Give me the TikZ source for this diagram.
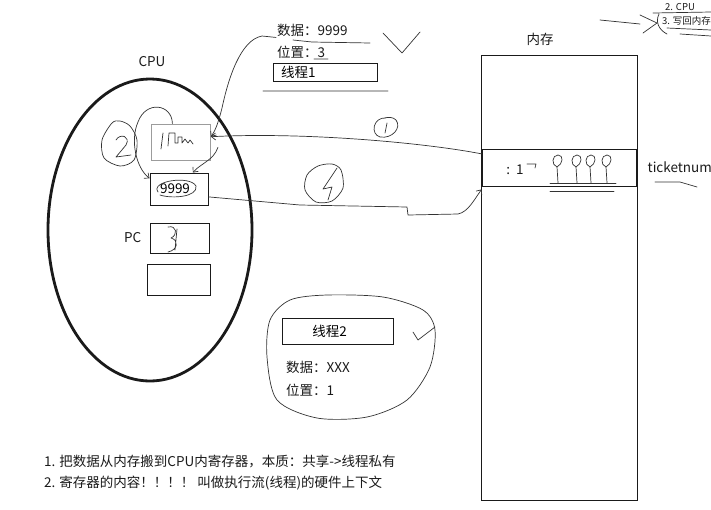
\documentclass[tikz,border=0pt]{standalone}
\usepackage{fontspec}
\setmainfont{Noto Sans CJK SC}
\usetikzlibrary{arrows.meta, positioning, shapes.geometric}
\definecolor{ink}{HTML}{1A1A1A}
\definecolor{pen}{HTML}{333333}
\definecolor{frame}{HTML}{9C9C9C}
\tikzset{
  reg/.style={draw=ink, line width=.9pt, minimum width=59pt, minimum height=31pt, inner sep=0pt,
              font=\fontsize{13.5}{16}\selectfont},
  hand/.style={draw=pen, line width=.7pt, line cap=round, line join=round},
  handarrow/.style={hand, -{Straight Barb[length=4pt,width=7pt]}},
  lbl/.style={font=\fontsize{13.5}{16}\selectfont, color=ink, inner sep=1pt},
}
\begin{document}
\begin{tikzpicture}[x=1pt,y=-1pt,
tbox/.style={draw=ink,line width=.9pt,inner sep=0pt,font=\fontsize{13.5}{16}\selectfont}]
\useasboundingbox (0,0) rectangle (711,509);
\clip (0,0) rectangle (711,509);
\node[draw=ink,ellipse,line width=2.8pt,minimum width=204pt,minimum height=302pt,inner sep=0pt] (cpu) at (150,230) {};
\node[lbl] (cpulbl) at (152,62) {CPU};
\node[reg,draw=frame,minimum height=36pt] (r1) at (181,142) {};
\node[reg,minimum width=58pt,minimum height=32pt] (r2) at (179,189) {9999\hspace*{8pt}};
\node[reg,minimum height=30pt] (r3) at (179.5,238) {};
\node[lbl,left=7pt of r3] (pclbl) {PC};
\node[reg,minimum width=63pt] (r4) at (178.5,279.5) {};
\node[draw=ink,line width=.9pt,minimum width=156pt,minimum height=445pt,inner sep=0pt] (mem) at (559,277.5) {};
\node[lbl] (memlbl) at (540,39) {内存};
\node[reg,minimum width=154pt,minimum height=37pt] (cell) at (559,167.5) {};
\node[lbl] (cellval) at (515,170) {:\ \ 1};
\node[lbl,right=10pt of cell] (tick) {ticketnum};
\node[lbl,anchor=west] (t1data) at (276,30) {数据：9999};
\node[lbl,anchor=west] (t1pos) at (276,52) {位置：3};
\node[tbox,minimum width=104pt,minimum height=18pt,text width=96pt,align=left] (t1) at (325,72) {\hspace*{4pt}线程1};
\node[tbox,minimum width=111pt,minimum height=26pt] (t2) at (337.5,331) {线程2\hspace*{16pt}};
\node[lbl,anchor=west] (t2data) at (285,367) {数据：XXX};
\node[lbl,anchor=west] (t2pos) at (285,390) {位置：1};
\node[lbl,anchor=west,font=\fontsize{9.5}{11}\selectfont] (step2) at (664,7) {2. CPU};
\node[lbl,anchor=west,font=\fontsize{9.5}{11}\selectfont] (step3) at (661,21) {3. 写回内存};
\node[lbl,anchor=west] (note1) at (43,461) {1. 把数据从内存搬到CPU内寄存器，本质：共享->线程私有};
\node[lbl,anchor=west] (note2) at (43,483) {2. 寄存器的内容！！！！ 叫做执行流(线程)的硬件上下文};
% flows between memory, registers and threads
\draw[handarrow] (cell.170) .. controls (420,142) and (300,132) .. (r1.10);
\draw[handarrow] (r2.-15) -- (300,205) -- (407,207) -- (408,215) -- (458,214) .. controls (468,212) and (474,200) .. ([yshift=-3pt]cell.south west);
\draw[handarrow] (t1data.south west) -- (262,36) .. controls (240,40) and (228,80) .. (222,108) .. controls (218,124) and (215,131) .. (r1.10);
\draw[handarrow] ([xshift=7pt]r1.-10) .. controls (214,160) and (200,164) .. (r2.50);
\draw[handarrow] (r1.115) .. controls (172,104) and (146,100) .. (138,122) .. controls (130,140) and (136,168) .. (r2.160);
% handwriting
\draw[hand] (116,140) .. controls (120,133) and (131,136) .. (126,145) -- (116,157) -- (131,155);
\draw[hand] plot[smooth cycle] coordinates {(112,123) (102,140) (104,158) (120,166) (134,160) (137,140) (130,126) (120,121)};
\draw[hand] (158,192) .. controls (150,181) and (190,175) .. (196,186) .. controls (198,197) and (172,199) .. (160,195);
\draw[hand] (161,149) -- (163,133) (168,146) -- (169,133) -- (175,133) -- (175,143) -- (178,143) -- (178,137) -- (182,137) -- (182,143) -- (185,139) -- (188,143) -- (190,140) -- (193,144);
\draw[hand] (168,227) .. controls (177,225) and (178,235) .. (171,238) .. controls (179,240) and (178,250) .. (168,252) (177,229) -- (175,250);
\draw[hand] (527,164) -- (536,164) -- (535,168);
\foreach \x in {557,576,590,606}{
\draw[hand] (\x,167) .. controls (\x-6,165) and (\x-5,155) .. (\x+1,155) .. controls (\x+7,155) and (\x+6,164) .. (\x,167) -- (\x+1,183);}
\draw[hand] (550,183) -- (616,183) (550,191) -- (614,191);
\draw[hand] (386,118) .. controls (373,117) and (370,134) .. (380,137) .. controls (392,139) and (402,128) .. (396,120) .. controls (393,117) and (389,117) .. (384,118) (387,123) -- (385,133);
\draw[hand] plot[smooth cycle] coordinates {(318,166) (307,175) (305,190) (316,202) (332,201) (343,188) (341,170) (332,164)};
\draw[hand] (337,168) -- (323,189) -- (332,187) -- (328,200);
\draw[hand] (293,40) -- (312,42) -- (370,43) (314,59) -- (328,59) (263,91) -- (388,91);
\draw[hand] (383,33) -- (402,53) -- (420,32);
\draw[hand] plot[smooth cycle] coordinates {(327,295) (290,300) (270,320) (267,357) (277,400) (317,418) (367,417) (407,400) (430,367) (435,330) (423,310) (383,297)};
\draw[hand] (413,332) -- (418,340) -- (435,327);
\draw[hand] (655,182) -- (680,182) -- (697,187);
\draw[hand] (600,20) -- (640,24) (640,15) -- (657,23) -- (643,33) (653,13) -- (711,12)
  (659,14) .. controls (655,22) and (659,30) .. (667,34) (667,28) -- (711,30) (680,34) -- (711,36);
\end{tikzpicture}
\end{document}
